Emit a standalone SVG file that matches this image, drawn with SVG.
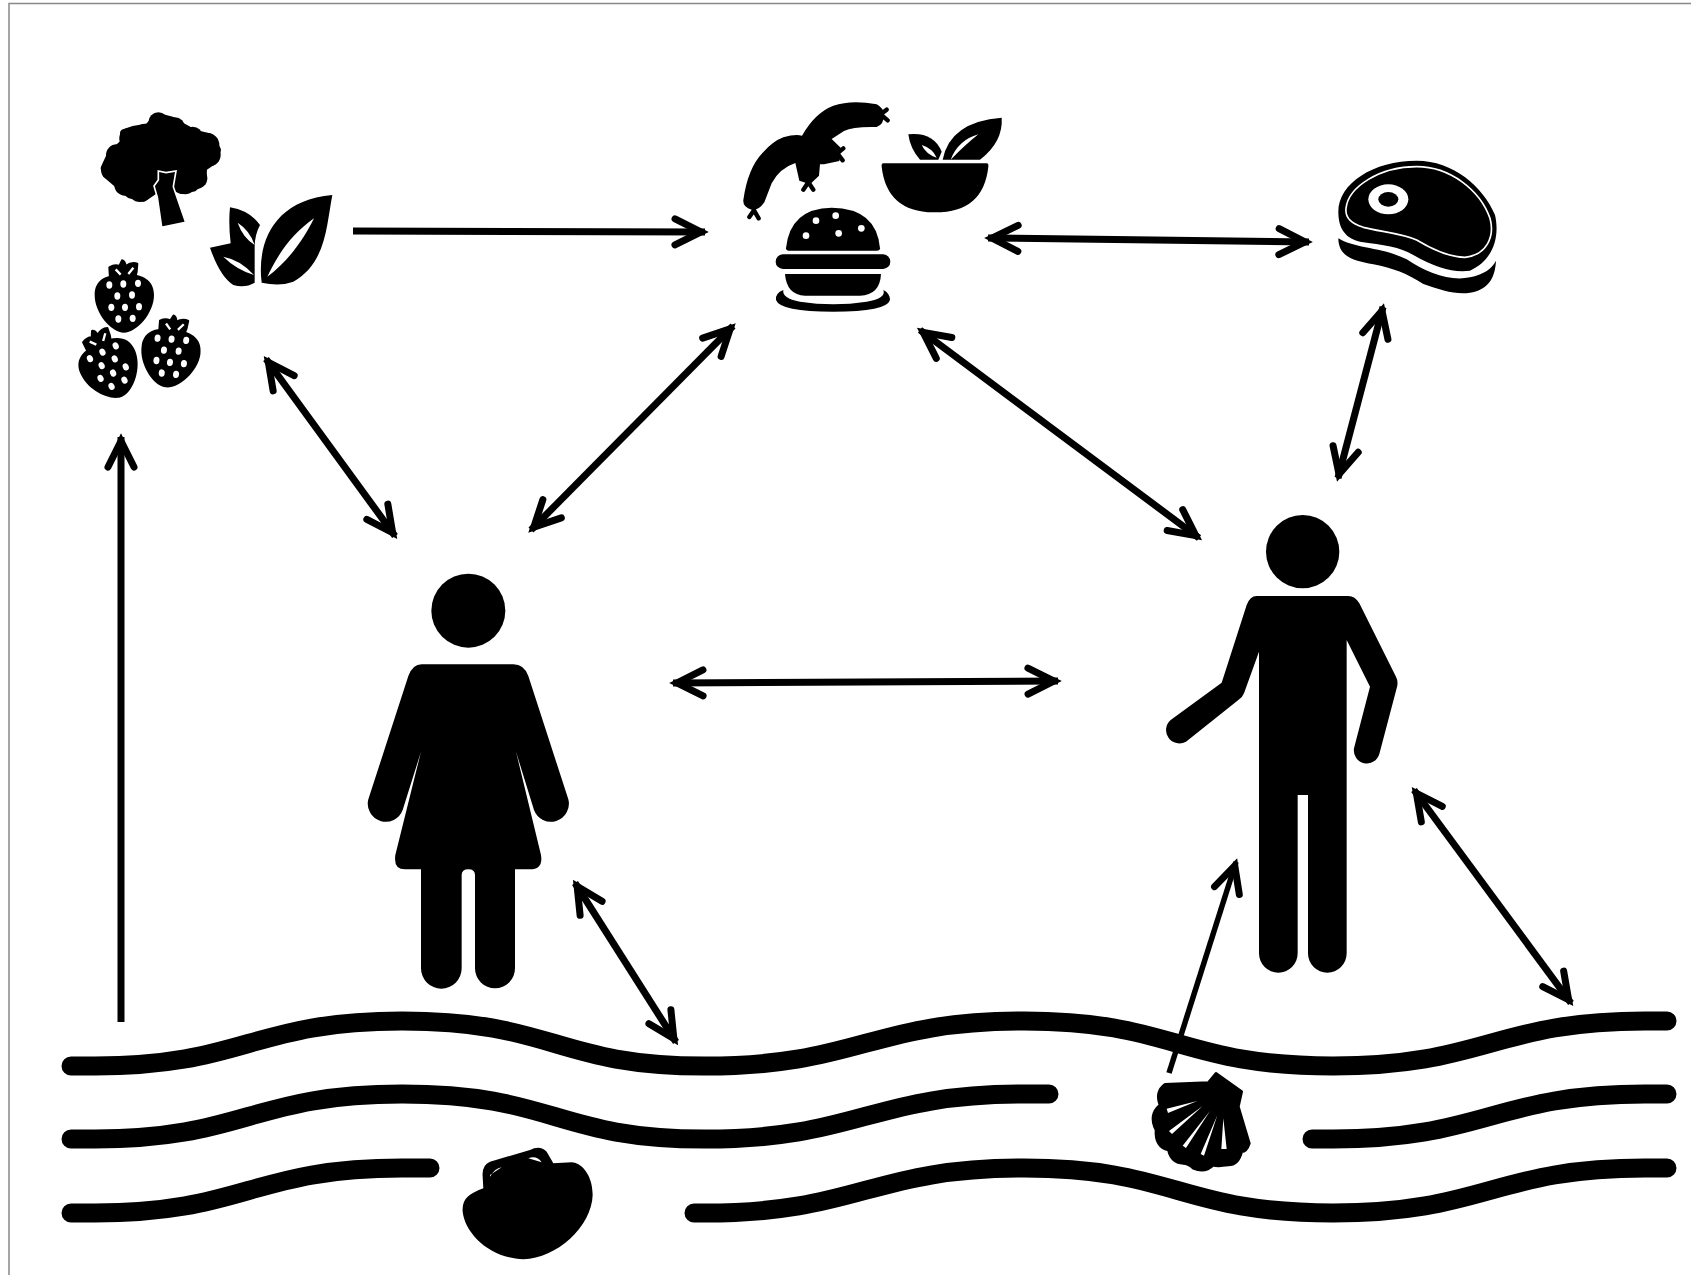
<svg xmlns="http://www.w3.org/2000/svg" xmlns:xlink="http://www.w3.org/1999/xlink" width="1691" height="1275" viewBox="0 0 1691 1275">
<style>
.arrow{fill:none;stroke:#000;stroke-width:7;stroke-linecap:butt}
.thin{stroke-width:5.5}
.head{fill:none;stroke:#000;stroke-width:7;stroke-linecap:round;stroke-linejoin:miter}
.k{fill:#000}
.w{fill:#fff}
.s{fill:none;stroke:#000;stroke-linecap:round}
.wave{fill:none;stroke:#000;stroke-width:19;stroke-linecap:round}
</style>
<defs>
<marker id="ah" markerUnits="userSpaceOnUse" viewBox="-40 -30 60 60" refX="0" refY="0" markerWidth="60" markerHeight="60" orient="auto-start-reverse">
<path class="head" d="M-30,-13 L-4,0 L-30,13"/>
</marker>
<g id="berry">
<path class="k" d="M192,553 C240,550 282,565 282,615 C282,670 230,728 192,728 C154,728 104,670 104,615 C104,565 145,553 192,553Z"/>
<path class="k" stroke="#000" stroke-width="6" stroke-linejoin="round" d="M150,565 L148,532 Q165,522 178,528 L186,511 Q195,513 197,528 Q215,515 232,521 L230,545 L225,565Z"/>
<path d="M167,538 L182,554 M220,533 L205,552" fill="none" stroke="#fff" stroke-width="7"/>
<g class="w"><ellipse cx="148" cy="585" rx="9" ry="11"/><ellipse cx="190" cy="582" rx="9" ry="11"/><ellipse cx="234" cy="580" rx="9" ry="11"/><ellipse cx="172" cy="618" rx="9" ry="11"/><ellipse cx="216" cy="615" rx="9" ry="11"/><ellipse cx="154" cy="652" rx="9" ry="11"/><ellipse cx="195" cy="652" rx="9" ry="11"/><ellipse cx="237" cy="650" rx="9" ry="11"/><ellipse cx="175" cy="687" rx="9" ry="11"/><ellipse cx="218" cy="685" rx="9" ry="11"/></g>
</g>
</defs>
<rect width="1691" height="1275" fill="#fff"/>
<path id="frame" d="M9,1275 L9,3.5 L1691,3.5" fill="none" stroke="#888" stroke-width="1.5"/>

<g id="plants" transform="translate(60,90) scale(.33333)">
<g id="broccoli">
<g class="k">
<path stroke="#000" stroke-width="26" stroke-linejoin="round" d="M295,82 L335,93 L360,108 L405,133 L450,143 L470,180 L458,212 L428,232 L427,268 L400,292 L365,299 L340,288 L285,298 L250,322 L210,312 L178,284 L140,252 L135,235 L152,198 L192,160 L193,130 L220,121 L265,113Z"/>
<circle cx="295" cy="97" r="30"/><circle cx="345" cy="112" r="30"/><circle cx="398" cy="140" r="30"/><circle cx="442" cy="165" r="36"/><circle cx="448" cy="195" r="34"/><circle cx="410" cy="265" r="32"/><circle cx="375" cy="280" r="33"/><circle cx="240" cy="300" r="36"/><circle cx="195" cy="285" r="32"/><circle cx="153" cy="240" r="30"/><circle cx="170" cy="195" r="32"/><circle cx="210" cy="145" r="32"/><circle cx="255" cy="133" r="32"/>
</g>
<path class="k" stroke="#fff" stroke-width="5" d="M295,243 L318,248 L348,243 L340,290 L377,397 L305,412 L292,322 L282,288 L295,270Z"/>
</g>
<g id="leaves">
<path class="k" d="M605,578 C590,460 640,330 817,315 C800,400 800,520 700,575 Q660,590 605,578Z"/>
<path class="w" d="M622,560 C660,480 700,430 762,385 C735,440 690,510 622,560Z"/>
<path class="k" d="M510,352 Q570,362 600,405 Q584,435 584,470 L584,578 Q555,595 520,585 Q480,560 450,473 L512,460 Q505,400 510,352Z"/>
<path class="w" d="M533,398 Q570,422 584,465 Q548,442 533,398Z M490,500 Q542,510 582,555 Q528,538 490,500Z"/>
</g>
<g id="strawberries">
<use xlink:href="#berry" href="#berry"/>
<use xlink:href="#berry" href="#berry" transform="translate(330,795) rotate(8) translate(-192,-630)"/>
<use xlink:href="#berry" href="#berry" transform="translate(148,830) rotate(-23) translate(-192,-630)"/>
</g>
</g>

<g id="processed-food" transform="translate(720,85) scale(.33333)">
<g id="sausages">
<path class="k" d="M70,345 Q83,250 128,203 Q160,168 190,157 Q225,147 246,152 Q285,83 340,62 Q395,43 470,58 Q492,70 492,90 Q492,118 470,126 Q400,124 372,138 L335,162 L362,188 L358,228 L312,238 L300,238 L297,272 L270,298 L238,287 L226,234 Q178,250 155,295 L133,352 Q115,378 95,374 Q68,367 70,345Z"/>
<path class="s" stroke-width="13" d="M102,376 L88,396 M102,376 L116,400 M265,292 L250,314 M265,292 L280,314 M352,205 L370,190 M352,205 L368,226 M482,88 L500,74 M482,88 L503,106"/>
</g>
<g id="salad">
<path class="k" d="M490,235 L800,235 Q806,235 805,245 Q790,385 640,382 Q500,380 485,245 Q484,235 490,235Z"/>
<path class="k" d="M668,224 Q690,110 845,98 Q850,170 780,224 Z"/>
<path class="w" d="M692,224 Q715,165 775,148 Q735,180 692,224Z"/>
<path class="k" d="M565,148 Q640,140 665,200 L655,224 L600,224 Q570,190 565,148Z"/>
<path class="w" d="M605,180 Q638,190 650,218 Q618,208 605,180Z"/>
</g>
<g id="burger">
<path class="k" d="M198,490 Q210,370 335,368 Q470,370 480,490 Q480,497 470,497 L205,497 Q198,497 198,490Z"/>
<g class="w"><circle cx="288" cy="407" r="10"/><circle cx="347" cy="392" r="10"/><circle cx="258" cy="452" r="10"/><circle cx="356" cy="445" r="10"/><circle cx="424" cy="430" r="10"/></g>
<rect class="k" x="167" y="508" width="344" height="44" rx="22"/>
<path class="k" d="M195,567 L483,567 Q480,630 420,632 L255,632 Q200,630 195,567Z"/>
<path class="k" d="M190,615 Q165,625 168,645 Q180,680 340,680 Q500,680 510,645 Q510,625 490,615 Q500,640 440,650 Q340,665 240,650 Q185,640 190,615Z"/>
</g>
</g>

<g id="steak" transform="translate(1310,140) scale(.33333)">
<path class="k" d="M85,215 C85,130 190,62 320,62 C430,62 520,140 555,225 C570,290 550,360 480,392 C430,398 380,385 310,345 C270,320 220,315 150,305 C110,295 85,270 85,215Z"/>
<path d="M108,205 C115,140 210,80 320,80 C420,80 510,150 540,235 C555,290 530,345 465,352 C420,352 370,330 320,300 C275,280 210,275 160,262 C125,250 105,235 108,205Z" fill="none" stroke="#fff" stroke-width="5"/>
<ellipse class="w" cx="235" cy="178" rx="60" ry="45"/>
<ellipse class="k" cx="235" cy="178" rx="30" ry="22"/>
<path class="k" d="M85,295 C130,325 220,322 290,358 C350,398 420,425 480,412 C520,403 545,388 558,362 C555,420 530,450 480,458 C440,465 390,450 340,432 C290,400 250,385 190,373 C130,362 85,350 85,295Z"/>
</g>

<g id="woman" transform="translate(340,550) scale(.33333)">
<circle class="k" cx="385" cy="182" r="111"/>
<path class="k" d="M245,343 L520,343 Q552,343 565,378 L685,748 A54,54 0 0 1 582,780 L528,605 L603,915 Q610,958 570,958 L525,958 L525,1255 A60,60 0 0 1 405,1255 L405,975 Q405,958 385,958 Q365,958 365,975 L365,1255 A61,61 0 0 1 243,1255 L243,958 L195,958 Q160,958 166,915 L243,605 L188,780 A54,54 0 0 1 85,748 L205,378 Q218,343 245,343Z"/>
</g>

<g id="man" transform="translate(1150,500) scale(.33333)">
<circle class="k" cx="458" cy="155" r="110"/>
<path class="k" d="M320,288 L595,288 Q615,288 628,310 L738,530 Q746,545 740,565 L688,762 A39,39 0 0 1 612,745 L660,560 L590,420 L590,1360 A58,58 0 0 1 474,1360 L474,885 L443,885 L443,1360 A58,58 0 0 1 327,1360 L327,455 L282,580 Q278,592 265,600 L108,725 A40,40 0 0 1 62,660 L215,548 L290,315 Q300,288 320,288Z"/>
</g>

<g id="water">
<path class="wave" d="M71,1066 L95,1066 C245,1066 252,1021 402,1021 C555,1021 555,1066 705,1066 C860,1066 870,1021 1024,1021 C1175,1021 1180,1066 1333,1066 C1485,1066 1495,1021 1645,1021 L1667,1021"/>
<path class="wave" transform="translate(0,73)" d="M71,1066 L95,1066 C245,1066 252,1021 402,1021 C555,1021 555,1066 705,1066 C860,1066 870,1021 1024,1021 L1049,1021"/>
<path class="wave" transform="translate(0,73)" d="M1312,1066 L1333,1066 C1485,1066 1495,1021 1645,1021 L1667,1021"/>
<path class="wave" transform="translate(0,147)" d="M71,1066 L95,1066 C245,1066 252,1021 402,1021 L430,1021"/>
<path class="wave" transform="translate(0,147)" d="M694,1066 L705,1066 C860,1066 870,1021 1024,1021 C1175,1021 1180,1066 1333,1066 C1485,1066 1495,1021 1645,1021 L1667,1021"/>
</g>

<g id="scallop" transform="translate(1130,1050) scale(.33333)">
<path class="k" stroke="#000" stroke-width="8" stroke-linejoin="round" d="M105,103 L235,98 L258,70 L335,125 L325,170 L358,280 Q350,305 335,305 Q325,345 295,345 Q260,350 250,345 Q225,370 190,355 Q175,340 160,340 Q125,340 115,300 Q75,290 78,240 Q55,195 90,165 Q75,125 105,103Z"/>
<path class="w" d="M202,153 L110,176 L114,189Z M218,168 L117,243 L126,252Z M240,183 L158,287 L168,294Z M262,196 L212,312 L222,317Z M280,205 L274,297 L290,297Z"/>
</g>

<g id="clam" transform="translate(440,1130) scale(.33333)">
<path class="k" d="M130,175 C90,190 65,205 68,245 C75,310 150,385 250,388 C350,385 455,290 458,195 C458,130 420,97 395,97 L340,100 L320,65 Q300,45 270,60 L150,95 Q125,105 128,140 Z"/>
<path class="w" d="M150,135 L185,112 Q165,115 150,140Z M265,85 L305,97 Q290,75 265,85Z"/>
</g>

<g id="connectors">
<path class="arrow" marker-end="url(#ah)" d="M121,1022 L121,437"/>
<path class="arrow" marker-end="url(#ah)" d="M353,231 L705,232"/>
<path class="arrow" marker-start="url(#ah)" marker-end="url(#ah)" d="M988,238 L1309,242"/>
<path class="arrow" marker-start="url(#ah)" marker-end="url(#ah)" d="M1383,307 L1338,478"/>
<path class="arrow" marker-start="url(#ah)" marker-end="url(#ah)" d="M266,359 L395,536"/>
<path class="arrow" marker-start="url(#ah)" marker-end="url(#ah)" d="M733,326 L531,530"/>
<path class="arrow" marker-start="url(#ah)" marker-end="url(#ah)" d="M920,330 L1199,538"/>
<path class="arrow" marker-start="url(#ah)" marker-end="url(#ah)" d="M673,683 L1058,681"/>
<path class="arrow" marker-start="url(#ah)" marker-end="url(#ah)" d="M575,883 L676,1042"/>
<path class="arrow thin" marker-end="url(#ah)" d="M1169,1073 L1236,862"/>
<path class="arrow" marker-start="url(#ah)" marker-end="url(#ah)" d="M1414,790 L1571,1003"/>
</g>
</svg>
